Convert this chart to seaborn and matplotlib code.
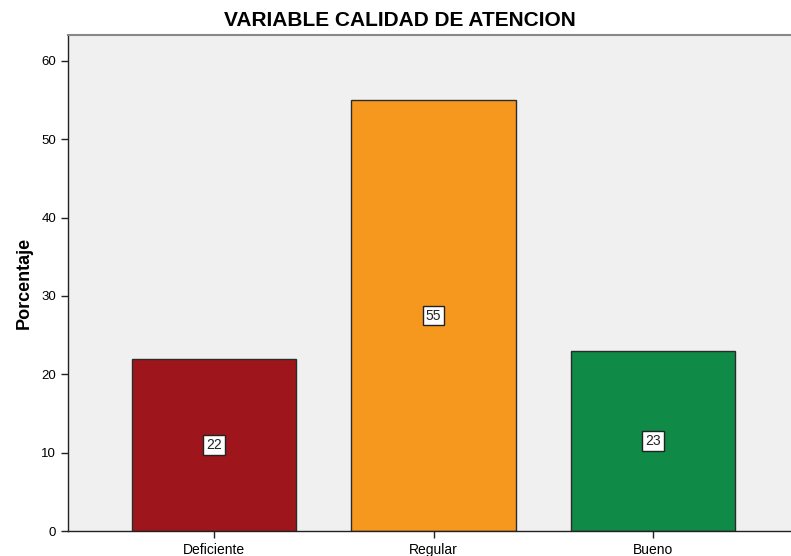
import matplotlib
matplotlib.use("Agg")
import matplotlib.pyplot as plt
import seaborn as sns
import pandas as pd

categories = ["Deficiente", "Regular", "Bueno"]
values = [22, 55, 23]
colors = ["#9E161B", "#F7981E", "#0F8A47"]

df = pd.DataFrame({"cat": categories, "val": values})

sns.set_style("ticks")
plt.rcParams['font.family'] = ['Liberation Sans', 'DejaVu Sans']
plt.rcParams['text.color'] = 'black'
plt.rcParams['axes.labelcolor'] = 'black'
plt.rcParams['xtick.color'] = 'black'
plt.rcParams['ytick.color'] = 'black'

fig = plt.figure(figsize=(7.91, 5.56), dpi=100)
ax = fig.add_axes([68/791, (556-531)/556, (799-68)/791, (531-35)/556])
ax.set_facecolor("#F0F0F0")

sns.barplot(data=df, x="cat", y="val", hue="cat", palette=colors, legend=False,
            width=0.75, edgecolor="#2b2b2b", linewidth=1.0, saturation=1, ax=ax)

for i, v in enumerate(values):
    ax.text(i, v / 2, str(v), ha="center", va="center", fontsize=10, color="#222222",
            bbox=dict(boxstyle="square,pad=0.2", facecolor="white", edgecolor="#222222", linewidth=1))

ax.set_xlim(-0.665, 2.665)
ax.set_ylim(0, 63.3)
ax.set_yticks([0, 10, 20, 30, 40, 50, 60])
ax.tick_params(axis="both", labelsize=9.5, length=5, width=1, color="#222222")
ax.tick_params(axis="x", labelsize=10)
ax.set_xlabel("")
ax.set_ylabel("Porcentaje", fontsize=13, fontweight="bold", labelpad=6)
for s in ["left", "bottom"]:
    ax.spines[s].set_color("#222222")
    ax.spines[s].set_linewidth(1)
ax.spines["top"].set_color("#888888")
ax.spines["top"].set_linewidth(1.5)
ax.spines["right"].set_visible(False)

fig.text(400 / 791, 1 - 21/556, "VARIABLE CALIDAD DE ATENCION",
         ha="center", va="center", fontsize=15, fontweight="bold", color="black")

fig.savefig("out.png", dpi=100)
